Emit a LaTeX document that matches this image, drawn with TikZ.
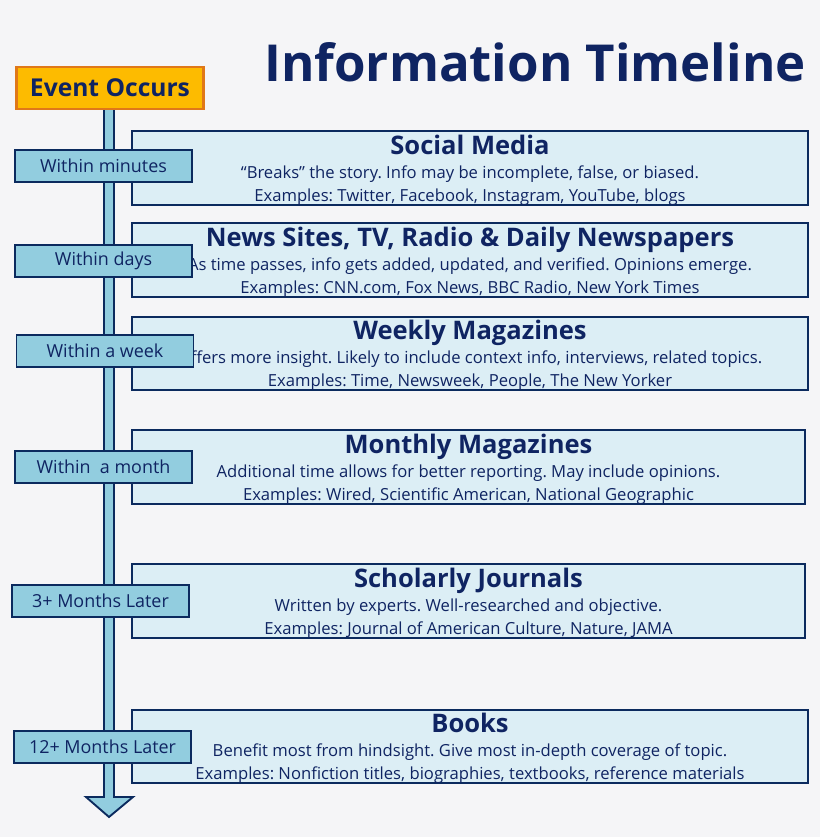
\documentclass[tikz,border=0pt]{standalone}
\usepackage{fontspec}
\setmainfont{Open Sans}
\frenchspacing
\usetikzlibrary{positioning}
\definecolor{navy}{HTML}{0F2462}
\definecolor{frame}{HTML}{0B2A5E}
\definecolor{lblue}{HTML}{92CDDF}
\definecolor{pale}{HTML}{DCEEF5}
\definecolor{bg}{HTML}{F5F5F7}
\definecolor{orng}{HTML}{E07818}
\definecolor{yell}{HTML}{FDBB00}
\tikzset{
	infobox/.style={draw=frame, line width=1.6pt, fill=pale, minimum width=20.28cm, minimum height=2.2cm, align=center, text=navy, inner sep=0pt, text depth=-6pt, font=\fontsize{14.2}{19.5}\selectfont},
	whenbox/.style={draw=frame, line width=1.6pt, fill=lblue, minimum width=5.31cm, minimum height=0.96cm, text=navy, inner sep=0pt, font=\fontsize{15.3}{16}\selectfont},
}
\newcommand{\headline}[1]{{\fontsize{21.8}{27}\selectfont\bfseries #1}\\[1pt]}
\begin{document}
\begin{tikzpicture}[x=0.03cm, y=-0.03cm]
	\fill[bg] (0,0) rectangle (820,837);
	\useasboundingbox (0,0) rectangle (820,837);
	%
	% title
	\node[text=navy, font=\fontsize{43.5}{48}\selectfont\bfseries] (title) at (535,62) {Information Timeline};
	%
	% shaft and arrow head
	\draw[frame, line width=1.6pt, fill=lblue] (104,108) -- (114,108) -- (114,797) -- (133,797) -- (109,817) -- (86,797) -- (104,797) -- cycle;
	%
	\node[draw=orng, line width=2.2pt, fill=yell, minimum width=5.6cm, minimum height=1.25cm, text=navy, font=\fontsize{21}{22}\selectfont\bfseries] (event) at (110,88) {Event Occurs};
	%
	% media boxes
	\node[infobox] (social) at (470,168) {\headline{Social Media}``Breaks'' the story. Info may be incomplete, false, or biased.\\Examples: Twitter, Facebook, Instagram, YouTube, blogs};
	\node[infobox] (news) at (470,260) {\headline{News Sites, TV, Radio \& Daily Newspapers}As time passes, info gets added, updated, and verified. Opinions emerge.\\Examples: CNN.com, Fox News, BBC Radio, New York Times};
	\node[infobox] (weekly) at (470,353.5) {\headline{Weekly Magazines}Offers more insight. Likely to include context info, interviews, related topics.\\Examples: Time, Newsweek, People, The New Yorker};
	\node[infobox, minimum width=20.19cm] (monthly) at (468.5,467) {\headline{Monthly Magazines}Additional time allows for better reporting. May include opinions.\\Examples: Wired, Scientific American, National Geographic};
	\node[infobox, minimum width=20.19cm] (scholar) at (468.5,601) {\headline{Scholarly Journals}Written by experts. Well-researched and objective.\\Examples: Journal of American Culture, Nature, JAMA};
	\node[infobox] (books) at (470,746.5) {\headline{Books}Benefit most from hindsight. Give most in-depth coverage of topic.\\Examples: Nonfiction titles, biographies, textbooks, reference materials};
	%
	% time labels
	\node[whenbox] (minutes) at (103.5,166) {Within minutes};
	\node[whenbox] (days) at (103.5,261) {Within days};
	\node[whenbox] (week) at (105,351) {Within a week};
	\node[whenbox] (month) at (103.5,467) {Within \ a month};
	\node[whenbox] (three) at (100.5,601) {3+ Months Later};
	\node[whenbox] (twelve) at (102.5,747) {12+ Months Later};
\end{tikzpicture}
\end{document}
